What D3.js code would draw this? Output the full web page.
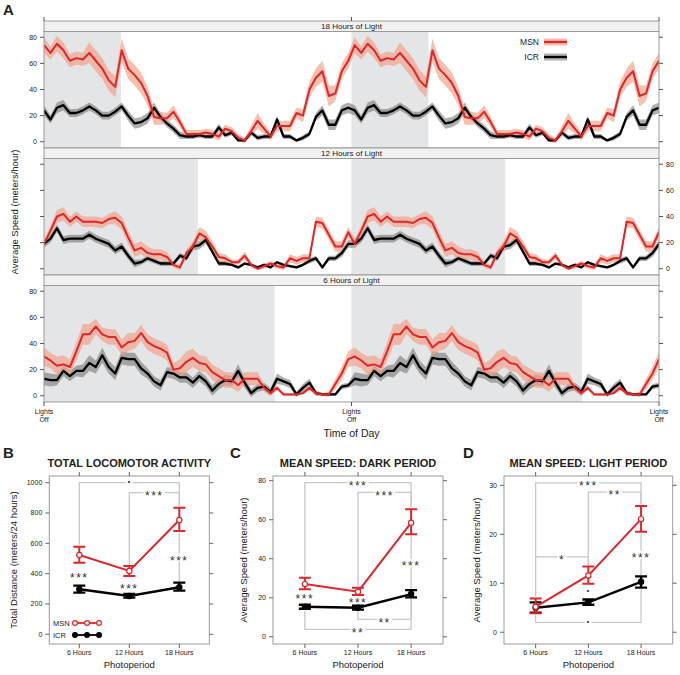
<!DOCTYPE html>
<html><head><meta charset="utf-8">
<script src="https://cdn.jsdelivr.net/npm/d3@7"></script>
<style>body{margin:0;background:#fff} text{font-family:"Liberation Sans",Arial,Helvetica,sans-serif;fill:#222}</style>
</head><body><svg id="c" width="680" height="675"></svg>
<script>
// ---------------- DATA ----------------
const stripNames = ["18 Hours of Light","12 Hours of Light","6 Hours of Light"];
const lightHours = [18,12,6];
// half-hour bins of one 24 h day (double plotted)
const msn18 = [74,68,75,70,62,64,63,68,62,56,47,42,70,56,51,45,35,19,18,18,23,15,6,6,6,7,6,4,10,8,3,1,8,16,10,4,12,12,12,22,20,40,49,54,35,37,54,62];
const msn18SE = [6,5,6,6,5,5,5,8,8,8,8,8,9,8,8,8,7,6,5,4,5,4,3,3,3,3,3,3,3,3,3,2,4,6,4,3,4,4,4,4,5,6,7,8,8,6,6,6];
const icr18 = [24,17,26,28,22,22,24,27,24,20,20,23,27,20,14,15,18,26,19,14,10,5,4,4,5,4,4,11,5,7,1,1,7,3,4,4,17,4,4,1,3,6,19,24,13,13,24,26];
const icr18SE = [4,3,4,4,3,3,3,3,3,3,3,3,3,4,4,4,4,4,3,3,3,3,2,2,2,2,2,3,2,2,1,1,2,2,2,2,3,2,2,1,2,2,3,4,4,4,4,4];
const msn12 = [19,29,40,42,36,40,36,36,36,35,38,39,35,24,14,16,12,11,11,9,3,1,12,17,27,24,17,9,8,5,5,10,3,0,2,4,2,1,8,6,8,8,36,35,26,17,17,28];
const msn12SE = [4,4,5,5,4,4,4,4,4,4,4,5,5,5,5,5,5,4,4,4,2,2,3,4,5,5,4,3,3,2,2,3,2,1,2,2,2,2,3,3,3,3,4,4,4,4,4,4];
const icr12 = [19,23,31,22,23,23,23,26,23,21,19,14,17,10,4,5,8,6,4,4,4,10,8,17,18,22,13,4,4,3,1,4,3,1,3,1,5,3,2,1,3,6,8,1,8,8,12,19];
const icr12SE = [3,3,3,3,3,3,3,3,3,3,3,3,3,3,3,2,2,2,2,2,2,2,2,3,3,3,2,2,2,1,1,1,1,1,1,1,1,1,1,1,1,2,2,1,2,2,3,3];
const msn6 = [30,27,23,24,22,34,47,47,53,47,45,45,37,41,42,48,41,38,36,33,20,21,26,29,25,24,18,15,12,12,8,13,13,13,6,2,6,1,1,1,2,6,2,1,1,9,17,28];
const msn6SE = [7,6,7,7,6,7,8,8,6,5,6,6,6,7,6,6,6,6,6,6,5,7,8,7,6,6,6,6,6,6,5,5,5,5,3,2,2,1,1,1,1,2,2,1,2,4,5,6];
const icr6 = [13,12,12,19,15,19,19,25,22,31,22,17,29,28,28,21,17,11,8,18,17,14,14,10,15,11,4,9,12,11,19,10,2,6,7,3,13,11,9,1,6,10,2,1,1,1,7,8];
const icr6SE = [5,5,4,4,4,4,5,6,5,6,5,5,5,5,5,5,4,4,4,4,4,4,4,4,4,4,4,4,4,4,5,4,3,3,3,3,4,3,3,2,3,3,2,1,1,1,2,2];
const speedTicks = [0,20,40,60,80];

const periods = ["6 Hours","12 Hours","18 Hours"];
const totalMSN = [523,418,754], totalMSNlo = [472,385,681], totalMSNhi = [578,450,835];
const totalICR = [297,253,310], totalICRlo = [275,242,288], totalICRhi = [321,266,341];
const darkMSN = [27.0,23.1,58.5], darkMSNlo = [24.4,21.4,52.5], darkMSNhi = [30.3,25.1,65.3];
const darkICR = [15.4,14.9,21.9], darkICRlo = [14.4,13.9,20.2], darkICRhi = [16.4,15.9,23.9];
const lightMSN = [5.2,11.6,23.1], lightMSNlo = [3.9,9.9,20.5], lightMSNhi = [6.9,13.4,25.8];
const lightICR = [5.0,6.1,10.3], lightICRlo = [4.0,5.6,9.1], lightICRhi = [6.1,6.7,11.4];

// significance annotations (in data units; a/b are photoperiod index 1..3)
const sigB = {
  brackets:[{a:1,b:3,y:1000,ya:590,yb:850,label:"·"},{a:2,b:3,y:934,ya:460,yb:850,label:"***"}],
  verticals:[{x:3,y0:668,y1:348,ly:508,label:"***"}],
  labels:[{x:1,ly:391,label:"***"},{x:2,ly:321,label:"***"}]
};
const sigC = {
  brackets:[{a:1,b:3,y:79,ya:31.5,yb:66.5,label:"***"},{a:2,b:3,y:74,ya:26,yb:66.5,label:"***"},
            {a:1,b:3,y:3.8,ya:13.3,yb:19.7,label:"**"},{a:2,b:3,y:8.9,ya:13.3,yb:19.7,label:"**"}],
  verticals:[{x:3,y0:52,y1:24.5,ly:37.9,label:"***"}],
  labels:[{x:1,ly:20.9,label:"***"},{x:2,ly:18.8,label:"***"}]
};
const sigD = {
  brackets:[{a:1,b:3,y:30.5,ya:15.4,yb:26.2,label:"***"},{a:2,b:3,y:28.6,ya:13.7,yb:26.2,label:"**"},
            {a:1,b:2,y:15.4,ya:7.3,yb:13.7,label:"*"},{a:1,b:3,y:2.0,ya:3.6,yb:8.8,label:"·"}],
  verticals:[{x:3,y0:20.2,y1:11.7,ly:15.8,label:"***"}],
  labels:[{x:2,ly:8.3,label:"·"}]
};

// ---------------- STYLE ----------------
const RED = "#e2252b", BAND_RED = "#f19c83", GRAY = "#9a9a9a", SHADE = "#e4e5e7";
const svg = d3.select("#c");

// ---------------- PANEL A ----------------
const xA = d3.scaleLinear().domain([0,48]).range([44,659]);
const series = [
  {msn:msn18,msnSE:msn18SE,icr:icr18,icrSE:icr18SE},
  {msn:msn12,msnSE:msn12SE,icr:icr12,icrSE:icr12SE},
  {msn:msn6,msnSE:msn6SE,icr:icr6,icrSE:icr6SE}
];
const nPts = 96;
function pts(v,se){ return d3.range(nPts).map(i=>({t:i*48/(nPts-1), v:v[i%48], s:se[i%48]})); }

svg.append("text").attr("x",3).attr("y",15).style("font-size","15px").style("font-weight","bold").text("A");

series.forEach((S,k)=>{
  const stripTop = 21 + k*127, top = stripTop + 10.5, bottom = top + 116.5;
  const y = d3.scaleLinear().domain([-4.8,84.4]).range([bottom,top]);
  const g = svg.append("g");
  g.append("rect").attr("x",xA(0)).attr("y",stripTop).attr("width",xA(48)-xA(0)).attr("height",top-stripTop)
    .attr("fill","#f1f1f1").attr("stroke",GRAY).attr("stroke-width",1);
  g.append("text").attr("x",(xA(0)+xA(48))/2).attr("y",stripTop+8.3).attr("text-anchor","middle")
    .style("font-size","8px").text(stripNames[k]);
  const cid = "clipA"+k;
  svg.append("clipPath").attr("id",cid).append("rect").attr("x",xA(0)).attr("y",top).attr("width",xA(48)-xA(0)).attr("height",bottom-top);
  const pg = g.append("g").attr("clip-path",`url(#${cid})`);
  const L = lightHours[k];
  [[0,24-L],[24,48-L]].forEach(([a,b])=>{
    pg.append("rect").attr("x",xA(a)).attr("y",top).attr("width",xA(b)-xA(a)).attr("height",bottom-top).attr("fill",SHADE);
  });
  const area = d3.area().x(d=>xA(d.t)).y0(d=>y(d.v-d.s)).y1(d=>y(d.v+d.s));
  const line = d3.line().x(d=>xA(d.t)).y(d=>y(d.v));
  const pm = pts(S.msn,S.msnSE), pi = pts(S.icr,S.icrSE);
  pg.append("path").datum(pi).attr("d",area).attr("fill","#6e6e6e").attr("opacity",0.55);
  pg.append("path").datum(pm).attr("d",area).attr("fill",BAND_RED).attr("opacity",0.65);
  pg.append("path").datum(pi).attr("d",line).attr("fill","none").attr("stroke","#000").attr("stroke-width",2.3).attr("stroke-linejoin","round");
  pg.append("path").datum(pm).attr("d",line).attr("fill","none").attr("stroke",RED).attr("stroke-width",2).attr("stroke-linejoin","round");
  g.append("rect").attr("x",xA(0)).attr("y",top).attr("width",xA(48)-xA(0)).attr("height",bottom-top)
    .attr("fill","none").attr("stroke",GRAY).attr("stroke-width",1);
  // y ticks (alternating)
  const labLeft = (k!==1);
  speedTicks.forEach(v=>{
    g.append("line").attr("x1",xA(0)-4).attr("x2",xA(0)).attr("y1",y(v)).attr("y2",y(v)).attr("stroke","#555");
    g.append("line").attr("x1",xA(48)).attr("x2",xA(48)+4).attr("y1",y(v)).attr("y2",y(v)).attr("stroke","#555");
    if(labLeft) g.append("text").attr("x",xA(0)-7).attr("y",y(v)+2.5).attr("text-anchor","end").style("font-size","7px").text(v);
    else g.append("text").attr("x",xA(48)+7).attr("y",y(v)+2.5).attr("text-anchor","start").style("font-size","7px").text(v);
  });
  if(k===0){
    [0,24,48].forEach(t=>g.append("line").attr("x1",xA(t)).attr("x2",xA(t)).attr("y1",stripTop-4).attr("y2",stripTop).attr("stroke","#555"));
    // legend
    const lg = [{name:"MSN",c:RED,b:BAND_RED,bo:0.65,yy:42},{name:"ICR",c:"#000",b:"#6e6e6e",bo:0.55,yy:57}];
    lg.forEach(d=>{
      g.append("text").attr("x",539).attr("y",d.yy+3).attr("text-anchor","end").style("font-size","8.5px").text(d.name);
      g.append("rect").attr("x",544).attr("y",d.yy-3.5).attr("width",23).attr("height",7).attr("fill",d.b).attr("opacity",d.bo);
      g.append("line").attr("x1",544).attr("x2",567).attr("y1",d.yy).attr("y2",d.yy).attr("stroke",d.c).attr("stroke-width",2.3);
    });
  }
  if(k===2){
    [0,24,48].forEach(t=>{
      g.append("line").attr("x1",xA(t)).attr("x2",xA(t)).attr("y1",bottom).attr("y2",bottom+4).attr("stroke","#555");
      g.append("text").attr("x",xA(t)).attr("y",bottom+11.5).attr("text-anchor","middle").style("font-size","7px").text("Lights");
      g.append("text").attr("x",xA(t)).attr("y",bottom+20).attr("text-anchor","middle").style("font-size","7px").text("Off");
    });
  }
});
svg.append("text").attr("transform","translate(18,212) rotate(-90)").attr("text-anchor","middle").style("font-size","9.5px").text("Average Speed (meters/hour)");
svg.append("text").attr("x",351.5).attr("y",437).attr("text-anchor","middle").style("font-size","10.5px").text("Time of Day");

// ---------------- PANELS B–D ----------------
function sigText(g,x,cy,label){
  const isDot = label==="·";
  const t = g.append("text").attr("x",x).attr("text-anchor","middle")
    .style("font-size", isDot? "12px":"12px").style("letter-spacing", isDot? "0px":"1.5px").style("fill","#333")
    .style("font-weight", isDot? "bold":"normal")
    .attr("y", isDot? cy+3.5 : cy+7.3).text(label);
  const bb = t.node().getBBox();
  g.insert("rect",()=>t.node()).attr("x",bb.x-1.5).attr("y",cy-4).attr("width",bb.width+3).attr("height",8).attr("fill","#fff");
}

function summary(cfg){
  const g = svg.append("g");
  const x = d3.scaleLinear().domain([0.4,3.6]).range([cfg.x0,cfg.x1]);
  const y = d3.scaleLinear().domain(cfg.domain).range([cfg.y1,cfg.y0]);
  g.append("text").attr("x",cfg.lx).attr("y",458).style("font-size","15px").style("font-weight","bold").text(cfg.letter);
  g.append("text").attr("x",(cfg.x0+cfg.x1)/2).attr("y",467).attr("text-anchor","middle").style("font-size","11px").style("font-weight","bold").text(cfg.title);
  g.append("rect").attr("x",cfg.x0).attr("y",cfg.y0).attr("width",cfg.x1-cfg.x0).attr("height",cfg.y1-cfg.y0)
    .attr("fill","none").attr("stroke",GRAY);
  cfg.ticks.forEach(v=>{
    g.append("line").attr("x1",cfg.x0-4).attr("x2",cfg.x0).attr("y1",y(v)).attr("y2",y(v)).attr("stroke","#666");
    g.append("line").attr("x1",cfg.x1).attr("x2",cfg.x1+4).attr("y1",y(v)).attr("y2",y(v)).attr("stroke","#666");
    g.append("text").attr("x",cfg.x0-7).attr("y",y(v)+2.5).attr("text-anchor","end").style("font-size","7px").text(v);
  });
  periods.forEach((p,i)=>{
    const xx = x(i+1);
    g.append("line").attr("x1",xx).attr("x2",xx).attr("y1",cfg.y0-4).attr("y2",cfg.y0).attr("stroke","#666");
    g.append("line").attr("x1",xx).attr("x2",xx).attr("y1",cfg.y1).attr("y2",cfg.y1+4).attr("stroke","#666");
    g.append("text").attr("x",xx).attr("y",655).attr("text-anchor","middle").style("font-size","7px").text(p);
  });
  g.append("text").attr("x",(cfg.x0+cfg.x1)/2).attr("y",668).attr("text-anchor","middle").style("font-size","9.5px").text("Photoperiod");
  g.append("text").attr("transform",`translate(${cfg.ylx},${(cfg.y0+cfg.y1)/2}) rotate(-90)`).attr("text-anchor","middle").style("font-size","9.5px").text(cfg.ylabel);
  // significance
  const sg = g.append("g");
  cfg.sig.brackets.forEach(b=>{
    sg.append("path").attr("d",`M${x(b.a)},${y(b.ya)}V${y(b.y)}H${x(b.b)}V${y(b.yb)}`).attr("fill","none").attr("stroke","#c8c8c8").attr("stroke-width",1.3);
  });
  cfg.sig.verticals.forEach(v=>{
    sg.append("line").attr("x1",x(v.x)).attr("x2",x(v.x)).attr("y1",y(v.y0)).attr("y2",y(v.y1)).attr("stroke","#c8c8c8").attr("stroke-width",1.3);
  });
  cfg.sig.brackets.forEach(b=>sigText(sg,(x(b.a)+x(b.b))/2,y(b.y),b.label));
  cfg.sig.verticals.forEach(v=>sigText(sg,x(v.x),y(v.ly),v.label));
  cfg.sig.labels.forEach(v=>sigText(sg,x(v.x),y(v.ly),v.label));
  // series
  const groups = [
    {v:cfg.icr,lo:cfg.icrLo,hi:cfg.icrHi,c:"#000",w:2.4,fill:"#000"},
    {v:cfg.msn,lo:cfg.msnLo,hi:cfg.msnHi,c:RED,w:2,fill:"#fff"}
  ];
  groups.forEach(s=>{
    const d = s.v.map((v,i)=>({x:i+1,v,lo:s.lo[i],hi:s.hi[i]}));
    g.append("path").datum(d).attr("d",d3.line().x(e=>x(e.x)).y(e=>y(e.v))).attr("fill","none").attr("stroke",s.c).attr("stroke-width",s.w);
    d.forEach(e=>{
      const xx=x(e.x);
      g.append("path").attr("d",`M${xx},${y(e.lo)}V${y(e.hi)}M${xx-6},${y(e.lo)}H${xx+6}M${xx-6},${y(e.hi)}H${xx+6}`)
        .attr("fill","none").attr("stroke",s.c).attr("stroke-width",s.w);
      g.append("circle").attr("cx",xx).attr("cy",y(e.v)).attr("r",2.6).attr("fill",s.fill).attr("stroke",s.c).attr("stroke-width",1.2);
    });
  });
  if(cfg.legend){
    [{n:"MSN",c:RED,f:"#fff",yy:623},{n:"ICR",c:"#000",f:"#000",yy:635}].forEach(l=>{
      g.append("text").attr("x",53).attr("y",l.yy+2.8).style("font-size","7.5px").text(l.n);
      g.append("line").attr("x1",75).attr("x2",99).attr("y1",l.yy).attr("y2",l.yy).attr("stroke",l.c).attr("stroke-width",1.8);
      [75,87,99].forEach(cx=>g.append("circle").attr("cx",cx).attr("cy",l.yy).attr("r",2.4).attr("fill",l.f).attr("stroke",l.c).attr("stroke-width",1.2));
    });
  }
}

summary({letter:"B",lx:3,x0:49.3,x1:209.3,y0:476,y1:644,domain:[-64,1044],ticks:[0,200,400,600,800,1000],
  title:"TOTAL LOCOMOTOR ACTIVITY",ylabel:"Total Distance (meters/24 hours)",ylx:16.5,
  msn:totalMSN,msnLo:totalMSNlo,msnHi:totalMSNhi,icr:totalICR,icrLo:totalICRlo,icrHi:totalICRhi,sig:sigB,legend:true});
summary({letter:"C",lx:230,x0:273,x1:443,y0:476,y1:644,domain:[-3.7,82.4],ticks:[0,20,40,60,80],
  title:"MEAN SPEED: DARK PERIOD",ylabel:"Average Speed (meters/hour)",ylx:246.5,
  msn:darkMSN,msnLo:darkMSNlo,msnHi:darkMSNhi,icr:darkICR,icrLo:darkICRlo,icrHi:darkICRhi,sig:sigC});
summary({letter:"D",lx:463,x0:504,x1:672.7,y0:476,y1:644,domain:[-2.4,31.9],ticks:[0,10,20,30],
  title:"MEAN SPEED: LIGHT PERIOD",ylabel:"Average Speed (meters/hour)",ylx:480,
  msn:lightMSN,msnLo:lightMSNlo,msnHi:lightMSNhi,icr:lightICR,icrLo:lightICRlo,icrHi:lightICRhi,sig:sigD});
</script></body></html>
